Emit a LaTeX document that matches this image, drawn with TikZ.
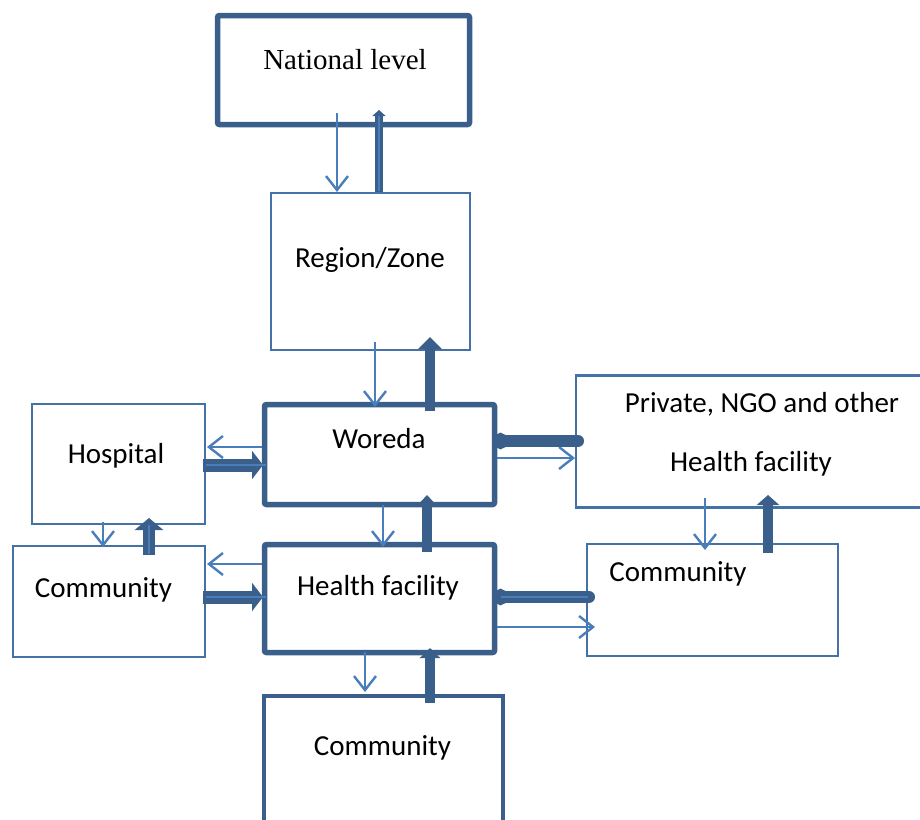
\documentclass[tikz,border=0pt]{standalone}
\usepackage{fontspec}
\setmainfont{Carlito}
\newfontfamily\natfont{Liberation Serif}
\usetikzlibrary{arrows.meta,calc}
\definecolor{darkb}{HTML}{3A5F8B}
\definecolor{boxb}{HTML}{4472A4}
\definecolor{lightb}{HTML}{4A7EBB}
\tikzset{
  thickbox/.style={draw=darkb, line width=5.5pt, rounded corners=2pt, fill=white, inner sep=0pt, outer sep=0pt},
  thinbox/.style={draw=boxb, line width=2.2pt, fill=white, inner sep=0pt, outer sep=0pt},
  midbox/.style={draw=darkb, line width=3.8pt, fill=white, inner sep=0pt, outer sep=0pt},
  lbl/.style={anchor=base, inner sep=0pt, font=\fontsize{29}{34}\selectfont},
  thinarr/.style={draw=lightb, line width=2.4pt, -{Straight Barb[length=14pt, width=22pt, line width=2.4pt]}},
  upk/.style={draw=darkb, line width=10pt, -{Triangle[length=12pt, width=23pt]}},
  blobk/.style={draw=darkb, line width=12pt, line cap=round, -{Circle[length=15pt, width=16pt]}},
  centre/.style={draw=lightb, line width=1.8pt},
}
\begin{document}
\begin{tikzpicture}[x=1pt, y=-1pt]
\useasboundingbox (0,0) rectangle (920,819);
% boxes
\node[thickbox, minimum width=252pt, minimum height=109pt] (nat) at (343.5,70) {};
\node[thinbox, minimum width=199pt, minimum height=157pt] (reg) at (370.5,271.5) {};
\node[thickbox, minimum width=230pt, minimum height=100pt] (wor) at (379.5,454.5) {};
\node[thinbox, minimum width=356pt, minimum height=132pt] (pri) at (754,441.5) {};
\node[thinbox, minimum width=173pt, minimum height=120pt] (hos) at (118.5,464) {};
\node[thinbox, minimum width=192pt, minimum height=111pt] (coml) at (109,601.5) {};
\node[thickbox, minimum width=230pt, minimum height=108pt] (hf) at (379.5,598.5) {};
\node[thinbox, minimum width=251pt, minimum height=112pt] (comr) at (712.5,600) {};
\node[midbox, minimum width=239pt, minimum height=144pt] (comb) at (383.5,768) {};
% labels
\node[lbl, font=\natfont\fontsize{29}{34}\selectfont] (natt) at (345,69) {National level};
\node[lbl] (regt) at (370,267) {Region/Zone};
\node[lbl] (wort) at (379,448) {Woreda};
\node[lbl] (host) at (116,463) {Hospital};
\node[lbl] (comlt) at (103.5,597) {Community};
\node[lbl] (hft) at (378,595) {Health facility};
\node[lbl] (prit1) at (762,412) {Private, NGO and other};
\node[lbl] (prit2) at (751,471) {Health facility};
\node[lbl] (comrt) at (678,581) {Community};
\node[lbl] (combt) at (382.5,755) {Community};
% thin arrows (downward / outward)
\draw[thinarr] ($(nat.south)+(-6.5,-11.5)$) -- ($(reg.north)+(-33.5,-1)$);
\draw[thinarr] ($(reg.south)+(4.5,-8)$) -- ($(wor.north)+(-4.5,2.5)$);
\draw[thinarr] ($(wor.west)+(-2.5,-7.5)$) -- ($(hos.east)+(2,-17)$);
\draw[thinarr] ($(wor.east)+(2.5,3.5)$) -- ($(pri.west)+(-1,16.5)$);
\draw[thinarr] ($(wor.south)+(3.5,0.5)$) -- ($(hf.north)+(3.5,2.5)$);
\draw[thinarr] ($(hos.south)+(-15.5,-2)$) -- ($(coml.north)+(-6,1)$);
\draw[thinarr] ($(hf.west)+(-2.5,-34.5)$) -- ($(coml.east)+(2,-37.5)$);
\draw[thinarr] ($(hf.east)+(2.5,28.5)$) -- ($(comr.west)+(8,27)$);
\draw[thinarr] ($(pri.south)+(-49,-9.5)$) -- ($(comr.north)+(-7.5,6)$);
\draw[thinarr] ($(hf.south)+(-14.5,-0.5)$) -- ($(comb.north)+(-18.5,-4)$);
% thick arrows (upward / inward)
\draw[draw=darkb, line width=7.5pt, -{Triangle[length=6pt, width=13pt]}] ($(reg.north)+(8.5,-1)$) -- ($(nat.south)+(35.5,-14.5)$);
\draw[centre] ($(reg.north)+(8.5,-2)$) -- ($(nat.south)+(35.5,-9)$);
\draw[upk] ($(wor.north)+(50.5,6.5)$) -- ($(reg.south)+(59.5,-13)$);
\draw[upk, line width=13pt, -{Triangle[length=11pt, width=28pt]}] ($(hos.east)+(-2,1)$) -- ($(wor.west)+(-1.5,10.5)$);
\draw[centre] ($(hos.east)+(1,1)$) -- ($(wor.west)+(1,10.5)$);
\draw[upk, line width=12pt, -{Triangle[length=12pt, width=28pt]}] ($(coml.north)+(40,9)$) -- ($(hos.south)+(30.5,-6)$);
\draw[centre] ($(coml.north)+(40,8)$) -- ($(hos.south)+(30.5,1)$);
\draw[upk, line width=13pt, -{Triangle[length=11pt, width=28pt]}] ($(coml.east)+(-2,-4.5)$) -- ($(hf.west)+(-1.5,-1.5)$);
\draw[centre] ($(coml.east)+(1,-4.5)$) -- ($(hf.west)+(1,-1.5)$);
\draw[upk, -{Triangle[length=10pt, width=18pt]}] ($(hf.north)+(47.5,7.5)$) -- ($(wor.south)+(47.5,-9.5)$);
\draw[blobk] ($(pri.west)+(2,-0.5)$) -- ($(wor.east)+(-1.5,-13.5)$);
\draw[upk, -{Triangle[length=10pt, width=22pt]}] ($(comr.north)+(55.5,9)$) -- ($(pri.south)+(14,-12.5)$);
\draw[blobk] ($(comr.west)+(2,-3)$) -- ($(hf.east)+(-1.5,-1.5)$);
\draw[centre] ($(comr.west)+(1,-3)$) -- ($(hf.east)+(6,-1.5)$);
\draw[upk, -{Triangle[length=10pt, width=20pt]}] ($(comb.north)+(46.5,7)$) -- ($(hf.south)+(50.5,-4.5)$);
\end{tikzpicture}
\end{document}
